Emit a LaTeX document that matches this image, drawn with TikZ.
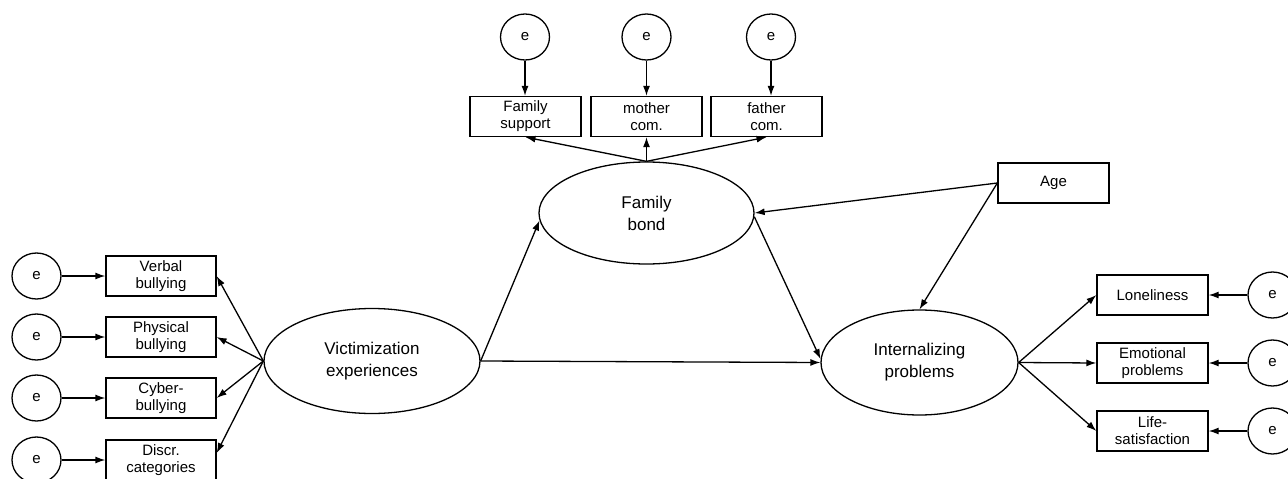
\documentclass[tikz,border=0pt]{standalone}
\usepackage{fontspec}
\setmainfont{Liberation Sans}
\usetikzlibrary{shapes.geometric,arrows.meta,calc}
\begin{document}
\begin{tikzpicture}[x=1pt,y=-1pt,
  obs/.style={draw, line width=1.3pt, rectangle, inner sep=0pt, minimum width=110pt, minimum height=40pt, align=center, font=\fontsize{15}{17}\selectfont},
  err/.style={draw, line width=1.3pt, ellipse, inner sep=0pt, minimum width=49pt, minimum height=46pt, font=\fontsize{15}{17}\selectfont},
  lat/.style={draw, line width=1.3pt, ellipse, inner sep=0pt, align=center, font=\fontsize{17}{22}\selectfont},
  arr/.style={-{Latex[length=10pt,width=7pt]}, line width=1.3pt},
]
\useasboundingbox (0,0) rectangle (1288,479);

% latent variables
\node[lat, minimum width=216pt, minimum height=105pt] (vic) at (372,361) {Victimization\\experiences};
\node[lat, minimum width=215pt, minimum height=102pt] (fb) at (646.5,213) {Family\\bond};
\node[lat, minimum width=197pt, minimum height=105pt] (int) at (919.5,362.5) {Internalizing\\problems};

% left indicators
\node[obs] (vb) at (161,276) {Verbal\\bullying};
\node[obs] (pb) at (161,337) {Physical\\bullying};
\node[obs] (cb) at (161,398) {Cyber-\\bullying};
\node[obs] (dc) at (161,460) {Discr.\\categories};
\node[err] (e1) at (36.5,276) {e};
\node[err] (e2) at (36.5,337) {e};
\node[err] (e3) at (36.5,398) {e};
\node[err] (e4) at (36.5,460) {e};

% top indicators
\node[obs, minimum width=111pt] (fs) at (525.5,116.5) {Family\\support};
\node[obs, minimum width=111pt] (mc) at (646.5,116.5) {mother\\com.};
\node[obs, minimum width=111pt] (fc) at (766.5,116.5) {father\\com.};
\node[err] (t1) at (525,37) {e};
\node[err] (t2) at (646.5,37) {e};
\node[err] (t3) at (771,37) {e};

% right indicators
\node[obs, minimum width=111pt] (lo) at (1152.5,295) {Loneliness};
\node[obs, minimum width=111pt] (ep) at (1152.5,363) {Emotional\\problems};
\node[obs, minimum width=111pt] (ls) at (1152.5,431) {Life-\\satisfaction};
\node[err] (r1) at (1272.5,295) {e};
\node[err] (r2) at (1272.5,363) {e};
\node[err] (r3) at (1272.5,431) {e};

% Age
\node[obs, minimum width=111pt] (age) at (1053.5,183) {Age};

% error arrows
\foreach \e/\b in {e1/vb,e2/pb,e3/cb,e4/dc} \draw[arr] (\e) -- (\b);
\foreach \e/\b in {r1/lo,r2/ep,r3/ls} \draw[arr] (\e) -- (\b);
\foreach \e/\b in {t1/fs,t2/mc,t3/fc} \draw[arr] (\e.south) -- (\e.south |- \b.north);

% loadings
\draw[arr] (vic.west) -- (vb.east);
\draw[arr] (vic.west) -- (pb.east);
\draw[arr] (vic.west) -- (cb.east);
\draw[arr] (vic.west) -- ($(dc.east)+(0,-7)$);
\draw[arr] (fb.north) -- (fs.south);
\draw[arr] (fb.north) -- (mc.south);
\draw[arr] (fb.north) -- (fc.south);
\draw[arr] (int.east) -- (lo.west);
\draw[arr] (int.east) -- (ep.west);
\draw[arr] (int.east) -- (ls.west);

% structural paths
\draw[arr] (vic.east) -- (fb.184);
\draw[arr] (vic.east) -- (int.west);
\draw[arr] (fb.358) -- (int.178);
\draw[arr] (age.west) -- (fb.east);
\draw[arr] (age.west) -- (int.north);
\end{tikzpicture}
\end{document}
